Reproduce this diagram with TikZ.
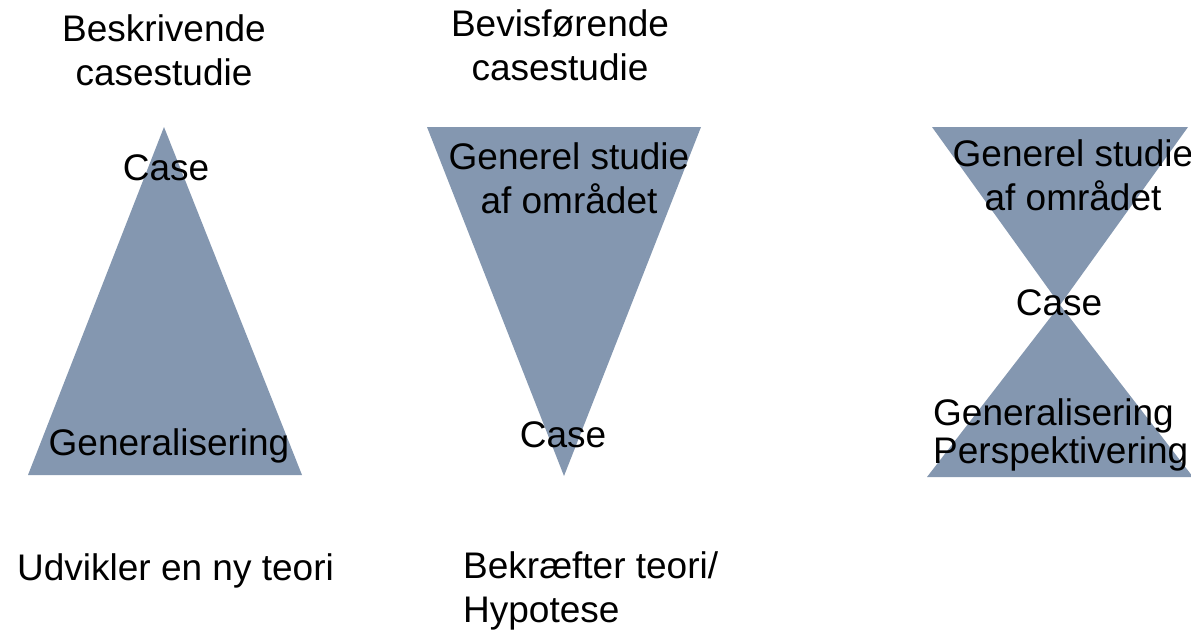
\documentclass[tikz,border=0pt]{standalone}
\usepackage{fontspec}
\setmainfont{Liberation Sans}
\definecolor{tri}{RGB}{132,151,176}
\begin{document}
\begin{tikzpicture}[x=1pt,y=-1pt,
  lbl/.style={font=\fontsize{37}{44}\selectfont, inner sep=0, align=center, anchor=base},
  lbll/.style={font=\fontsize{37}{44}\selectfont, inner sep=0, align=left, anchor=base west},
  tight/.style={font=\fontsize{37}{38}\selectfont}]
\useasboundingbox (0,0) rectangle (1191,629);
% shapes
\fill[tri] (164,127) -- (302,475) -- (28,475) -- cycle;
\fill[tri] (427,127) -- (701,127) -- (564,476) -- cycle;
\fill[tri] (932,127) -- (1188,127) -- (1060,305) -- cycle;
\fill[tri] (1060,305) -- (1193,477) -- (927,477) -- cycle;
% titles (base anchor = baseline of the last line)
\node[lbl] (t1) at (164,85) {Beskrivende\\casestudie};
\node[lbl] (t2) at (560,80) {Bevisførende\\casestudie};
% left triangle
\node[lbl] (c1) at (166,180) {Case};
\node[lbl] (g1) at (169,455) {Generalisering};
% middle triangle
\node[lbl] (s2) at (569,213) {Generel studie\\af området};
\node[lbl] (c2) at (563,447) {Case};
% hourglass
\node[lbl] (s3) at (1073,210) {Generel studie\\af området};
\node[lbl] (c3) at (1059,315) {Case};
\node[lbll,tight] (g3) at (933,463) {Generalisering\\Perspektivering};
% bottom texts
\node[lbll] (u1) at (17,580) {Udvikler en ny teori};
\node[lbll] (b2) at (463,622) {Bekræfter teori/\\Hypotese};
\end{tikzpicture}
\end{document}
